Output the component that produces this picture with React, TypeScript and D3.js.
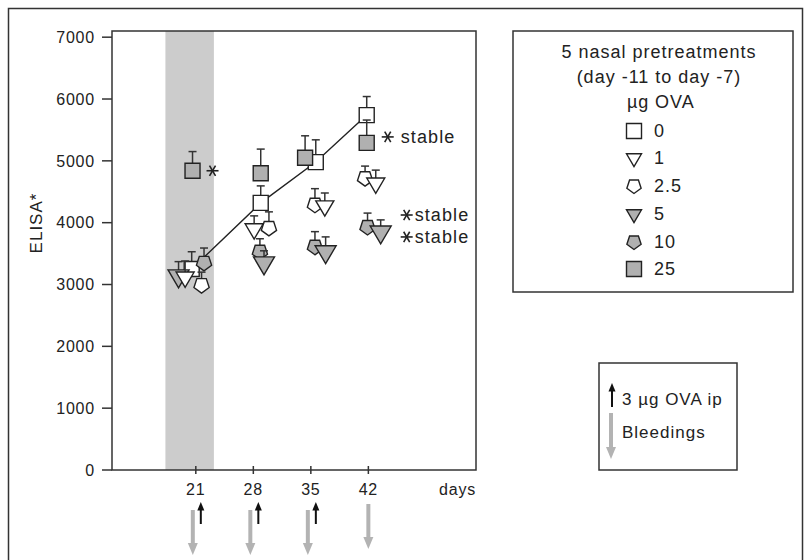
import React from "react";
import * as d3 from "d3";

// ---------- data ----------
const X_TICKS = [21, 28, 35, 42];
const Y_TICKS = [0, 1000, 2000, 3000, 4000, 5000, 6000, 7000];
const BAND_DAYS = [17.3, 23.2];
const INJECTION_DAYS = [21, 28, 35];
const BLEEDING_DAYS = [21, 28, 35, 42];

const DOSES = ["0", "1", "2.5", "5", "10", "25"];

// per dose: dodged day position, ELISA mean, upper error (SEM)
const dose0X = [20.5, 28.9, 35.6, 41.8];
const dose0Y = [3250, 4320, 4980, 5740];
const dose0E = [280, 275, 360, 300];

const dose1X = [19.7, 28.1, 36.7, 42.9];
const dose1Y = [3120, 3900, 4270, 4640];
const dose1E = [260, 210, 210, 210];

const dose25X = [21.7, 29.9, 35.5, 41.6];
const dose25Y = [2990, 3915, 4290, 4720];
const dose25E = [210, 260, 260, 195];

const dose5X = [18.9, 29.3, 36.8, 43.5];
const dose5Y = [3140, 3350, 3530, 3850];
const dose5E = [230, 195, 240, 195];

const dose10X = [22.0, 28.8, 35.5, 41.9];
const dose10Y = [3350, 3530, 3610, 3930];
const dose10E = [240, 210, 245, 225];

const dose25ugX = [20.6, 28.9, 34.3, 41.8];
const dose25ugY = [4840, 4800, 5050, 5290];
const dose25ugE = [310, 390, 355, 370];

// ---------- styles ----------
const FONT = "'Liberation Sans', Arial, sans-serif";
const INK = "#222";
const GRAY = "#b0b0b0";

type Shape = "square" | "triangle" | "pentagon";
interface Series {
  dose: string;
  xs: number[];
  ys: number[];
  es: number[];
  shape: Shape;
  fill: string;
  size: number;
}

const SERIES: Series[] = [
  { dose: DOSES[0], xs: dose0X, ys: dose0Y, es: dose0E, shape: "square", fill: "#fff", size: 15 },
  { dose: DOSES[5], xs: dose25ugX, ys: dose25ugY, es: dose25ugE, shape: "square", fill: GRAY, size: 15 },
  { dose: DOSES[4], xs: dose10X, ys: dose10Y, es: dose10E, shape: "pentagon", fill: GRAY, size: 16 },
  { dose: DOSES[3], xs: dose5X, ys: dose5Y, es: dose5E, shape: "triangle", fill: GRAY, size: 21 },
  { dose: DOSES[2], xs: dose25X, ys: dose25Y, es: dose25E, shape: "pentagon", fill: "#fff", size: 16 },
  { dose: DOSES[1], xs: dose1X, ys: dose1Y, es: dose1E, shape: "triangle", fill: "#fff", size: 18 },
];

const LEGEND_ORDER = [
  { dose: DOSES[0], shape: "square" as Shape, fill: "#fff" },
  { dose: DOSES[1], shape: "triangle" as Shape, fill: "#fff" },
  { dose: DOSES[2], shape: "pentagon" as Shape, fill: "#fff" },
  { dose: DOSES[3], shape: "triangle" as Shape, fill: GRAY },
  { dose: DOSES[4], shape: "pentagon" as Shape, fill: GRAY },
  { dose: DOSES[5], shape: "square" as Shape, fill: GRAY },
];

function shapePath(shape: Shape, size: number): string {
  const p = d3.path();
  if (shape === "square") {
    const h = size / 2;
    p.rect(-h, -h, size, size);
  } else if (shape === "triangle") {
    const w = size;
    const h = size * 0.85;
    p.moveTo(-w / 2, -h / 3);
    p.lineTo(w / 2, -h / 3);
    p.lineTo(0, (2 * h) / 3);
    p.closePath();
  } else {
    const r = size / 2;
    for (let k = 0; k < 5; k++) {
      const a = Math.PI / 2 + (k * 2 * Math.PI) / 5;
      const x = r * Math.cos(a);
      const y = r * Math.sin(a);
      if (k === 0) p.moveTo(x, y);
      else p.lineTo(x, y);
    }
    p.closePath();
  }
  return p.toString();
}

function Asterisk({ cx, cy, r = 6 }: { cx: number; cy: number; r?: number }) {
  const lines = [0, 60, 120].map((deg) => {
    const a = (deg * Math.PI) / 180;
    return (
      <line
        key={deg}
        x1={cx - r * Math.cos(a)}
        y1={cy - r * Math.sin(a)}
        x2={cx + r * Math.cos(a)}
        y2={cy + r * Math.sin(a)}
        stroke={INK}
        strokeWidth={1.6}
      />
    );
  });
  return <g>{lines}</g>;
}

function Arrow({ x, y1, y2, color, width, head }: { x: number; y1: number; y2: number; color: string; width: number; head: number }) {
  // y1 = tail, y2 = tip
  const dir = y2 > y1 ? 1 : -1;
  const hl = head * 1.2;
  return (
    <g>
      <line x1={x} y1={y1} x2={x} y2={y2 - dir * hl * 0.8} stroke={color} strokeWidth={width} />
      <path d={`M${x - head / 2},${y2 - dir * hl}L${x + head / 2},${y2 - dir * hl}L${x},${y2}Z`} fill={color} />
    </g>
  );
}

export default function App() {
  const W = 804;
  const H = 560;
  const plot = { left: 112, right: 476, top: 31, bottom: 470 };

  const x = d3.scaleLinear().domain([10.8, 55.1]).range([plot.left, plot.right]);
  const y = d3.scaleLinear().domain([0, 7100]).range([plot.bottom, plot.top]);

  const line = d3
    .line<number>()
    .x((_, i) => x(dose0X[i]))
    .y((v) => y(v));

  const s25 = SERIES[1];
  const s10 = SERIES[2];
  const s5 = SERIES[3];

  const textStyle = { fontFamily: FONT, fontSize: 16, fill: INK, letterSpacing: 0.8 } as React.CSSProperties;
  const legStyle = { ...textStyle, fontSize: 18, letterSpacing: 1.0 } as React.CSSProperties;
  const annStyle = { ...textStyle, fontSize: 18, letterSpacing: 1.1 } as React.CSSProperties;
  const arrStyle = { ...textStyle, fontSize: 17, letterSpacing: 1.0 } as React.CSSProperties;

  const legendRows = [131, 158, 186, 214, 242, 269];

  return (
    <svg
      width={W}
      height={H}
      style={{ position: "absolute", left: 0, top: 0, background: "#fff" }}
    >
      <rect x={0} y={0} width={W} height={H} fill="#fff" />
      {/* outer frame */}
      <rect x={8.5} y={8.5} width={794} height={H + 10} fill="none" stroke="#333" strokeWidth={1.5} />

      {/* band */}
      <rect
        x={x(BAND_DAYS[0])}
        y={plot.top}
        width={x(BAND_DAYS[1]) - x(BAND_DAYS[0])}
        height={plot.bottom - plot.top}
        fill="#cccccc"
      />

      {/* plot box */}
      <rect
        x={plot.left}
        y={plot.top}
        width={plot.right - plot.left}
        height={plot.bottom - plot.top}
        fill="none"
        stroke="#333"
        strokeWidth={1.5}
      />

      {/* y ticks */}
      {Y_TICKS.map((t) => (
        <g key={t}>
          <line x1={plot.left - 10} x2={plot.left} y1={y(t)} y2={y(t)} stroke="#333" strokeWidth={1.5} />
          <text x={plot.left - 17} y={y(t)} dy="0.36em" textAnchor="end" style={textStyle}>
            {t}
          </text>
        </g>
      ))}
      <text
        transform={`translate(36, 223) rotate(-90)`}
        textAnchor="middle"
        dy="0.36em"
        style={{ ...textStyle, fontSize: 17, letterSpacing: 1.0 }}
      >
        ELISA*
      </text>

      {/* x ticks */}
      {X_TICKS.map((t) => (
        <g key={t}>
          <line x1={x(t)} x2={x(t)} y1={plot.bottom - 4} y2={plot.bottom + 4} stroke="#333" strokeWidth={1.5} />
          <text x={x(t)} y={489} dy="0.36em" textAnchor="middle" style={textStyle}>
            {t}
          </text>
        </g>
      ))}
      <text x={plot.right} y={489} dy="0.36em" textAnchor="end" style={textStyle}>
        days
      </text>

      {/* connecting line for 0 µg */}
      <path d={line(dose0Y) || ""} fill="none" stroke={INK} strokeWidth={1.4} />

      {/* series */}
      {SERIES.map((s) => (
        <g key={s.dose}>
          {s.ys.map((v, i) => {
            const cx = x(s.xs[i]);
            const cy = y(v);
            const top = y(v + s.es[i]);
            return (
              <g key={i}>
                <line x1={cx} x2={cx} y1={cy} y2={top} stroke="#333" strokeWidth={1.5} />
                <line x1={cx - 4} x2={cx + 4} y1={top} y2={top} stroke="#333" strokeWidth={1.5} />
                <path
                  d={shapePath(s.shape, s.size)}
                  transform={`translate(${cx},${cy})`}
                  fill={s.fill}
                  stroke={INK}
                  strokeWidth={1.4}
                />
              </g>
            );
          })}
        </g>
      ))}

      {/* significance annotations */}
      <Asterisk cx={x(s25.xs[0]) + 20} cy={y(s25.ys[0])} />
      <Asterisk cx={x(s25.xs[3]) + 21} cy={y(s25.ys[3]) - 6} />
      <text x={x(s25.xs[3]) + 34} y={y(s25.ys[3]) - 6} dy="0.36em" style={annStyle}>
        stable
      </text>
      <Asterisk cx={x(s5.xs[3]) + 26} cy={y(s10.ys[3]) - 12} />
      <text x={x(s5.xs[3]) + 34} y={y(s10.ys[3]) - 12} dy="0.36em" style={annStyle}>
        stable
      </text>
      <Asterisk cx={x(s5.xs[3]) + 26} cy={y(s5.ys[3]) + 5} />
      <text x={x(s5.xs[3]) + 34} y={y(s5.ys[3]) + 5} dy="0.36em" style={annStyle}>
        stable
      </text>

      {/* arrows below axis */}
      {INJECTION_DAYS.map((d) => (
        <Arrow key={"i" + d} x={x(d) + 5} y1={524} y2={502} color="#111" width={2} head={7} />
      ))}
      {BLEEDING_DAYS.map((d) => {
        const paired = INJECTION_DAYS.includes(d);
        return (
          <Arrow
            key={"b" + d}
            x={paired ? x(d) - 3 : x(d)}
            y1={paired ? 510 : 504}
            y2={paired ? 555 : 549}
            color="#b3b3b3"
            width={4}
            head={10}
          />
        );
      })}

      {/* dose legend */}
      <rect x={513} y={31} width={280} height={261} fill="#fff" stroke="#333" strokeWidth={1.5} />
      <text x={659} y={52} dy="0.36em" textAnchor="middle" style={legStyle}>
        5 nasal pretreatments
      </text>
      <text x={659} y={77} dy="0.36em" textAnchor="middle" style={legStyle}>
        (day -11 to day -7)
      </text>
      <text x={627} y={102} dy="0.36em" style={legStyle}>
        µg
      </text>
      <text x={655} y={102} dy="0.36em" style={legStyle}>
        OVA
      </text>
      {LEGEND_ORDER.map((it, i) => (
        <g key={it.dose}>
          <path
            d={shapePath(it.shape, 15)}
            transform={`translate(634,${legendRows[i]})`}
            fill={it.fill}
            stroke={INK}
            strokeWidth={1.4}
          />
          <text x={654} y={legendRows[i]} dy="0.36em" style={legStyle}>
            {it.dose}
          </text>
        </g>
      ))}

      {/* arrow legend */}
      <rect x={599} y={363} width={138} height={107} fill="#fff" stroke="#333" strokeWidth={1.5} />
      <Arrow x={612} y1={407} y2={383} color="#111" width={2} head={7} />
      <text x={622} y={399} dy="0.36em" style={arrStyle}>
        3 µg OVA ip
      </text>
      <Arrow x={611} y1={413} y2={459} color="#b3b3b3" width={4} head={10} />
      <text x={622} y={432} dy="0.36em" style={arrStyle}>
        Bleedings
      </text>
    </svg>
  );
}
